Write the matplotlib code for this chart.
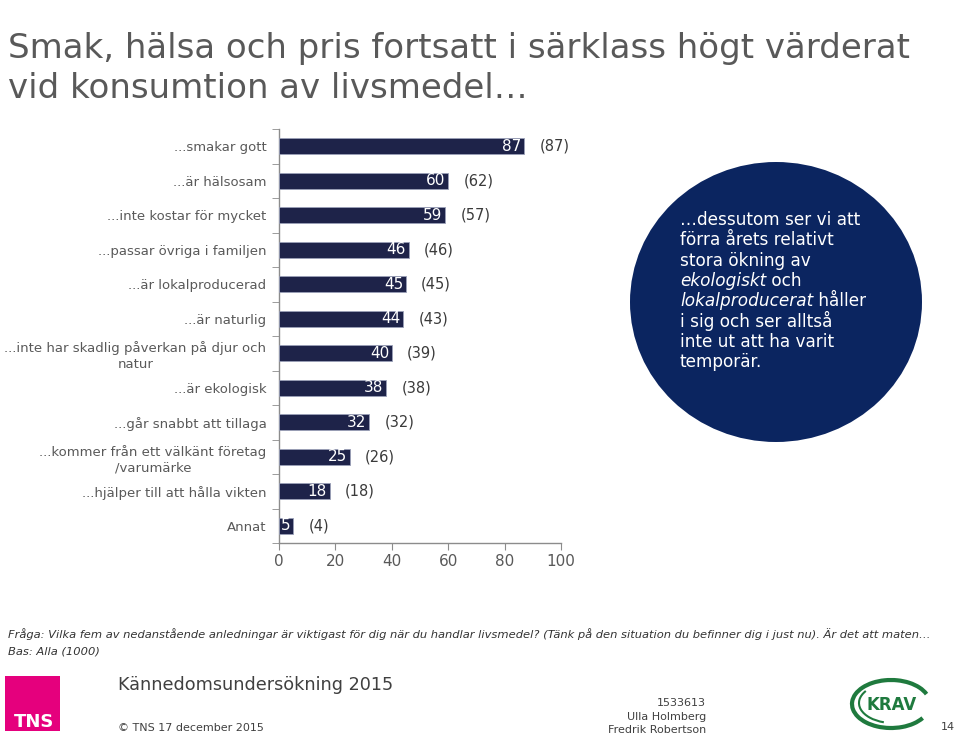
import matplotlib
matplotlib.use("Agg")
import matplotlib.pyplot as plt
from matplotlib.patches import Ellipse, Rectangle, Arc
import numpy as np

# ---------------- data ----------------
categories = [
    "...smakar gott",
    "...är hälsosam",
    "...inte kostar för mycket",
    "...passar övriga i familjen",
    "...är lokalproducerad",
    "...är naturlig",
    "...inte har skadlig påverkan på djur och\nnatur",
    "...är ekologisk",
    "...går snabbt att tillaga",
    "...kommer från ett välkänt företag\n/varumärke",
    "...hjälper till att hålla vikten",
    "Annat",
]
values_2015 = [87, 60, 59, 46, 45, 44, 40, 38, 32, 25, 18, 5]
values_2014 = [87, 62, 57, 46, 45, 43, 39, 38, 32, 26, 18, 4]
x_ticks = [0, 20, 40, 60, 80, 100]

title = "Smak, hälsa och pris fortsatt i särklass högt värderat\nvid konsumtion av livsmedel…"
question = ("Fråga: Vilka fem av nedanstående anledningar är viktigast för dig när du handlar livsmedel? "
            "(Tänk på den situation du befinner dig i just nu). Är det att maten…")
base = "Bas: Alla (1000)"

W, H = 960, 735
BAR = "#1e2349"
CIRCLE = "#0b2560"
GREY = "#595959"
AXIS = "#8c8c8c"

plt.rcParams["font.family"] = ["DejaVu Sans"]

fig = plt.figure(figsize=(W / 100, H / 100), dpi=100)
fig.patch.set_facecolor("white")


def P(x, y):
    return x / W, 1 - y / H


# ---------------- axes ----------------
ax_l, ax_r, ax_t, ax_b = 279, 561, 129, 543
ax = fig.add_axes([ax_l / W, 1 - ax_b / H, (ax_r - ax_l) / W, (ax_b - ax_t) / H])
n = len(categories)
ypos = np.arange(n)
ax.barh(ypos, values_2015, height=0.46, color=BAR, edgecolor="#9aa0b8", linewidth=0.6, zorder=3)
ax.set_xlim(0, 100)
ax.set_ylim(n - 0.5, -0.5)

for spine in ["top", "right"]:
    ax.spines[spine].set_visible(False)
for spine in ["left", "bottom"]:
    ax.spines[spine].set_color(AXIS)
    ax.spines[spine].set_linewidth(1.0)

ax.set_xticks(x_ticks)
ax.set_xticklabels([str(t) for t in x_ticks])
ax.tick_params(axis="x", direction="out", length=5, color=AXIS, labelsize=11, labelcolor=GREY, pad=3)

ax.set_yticks(ypos)
ax.set_yticklabels(categories)
ax.set_yticks(np.arange(-0.5, n, 1.0), minor=True)
ax.tick_params(axis="y", which="major", length=0, pad=9, labelsize=9.5, labelcolor=GREY)
ax.tick_params(axis="y", which="minor", direction="out", length=5, color=AXIS)
for lab in ax.get_yticklabels():
    lab.set_multialignment("center")
    lab.set_linespacing(1.3)

for i, (v, pv) in enumerate(zip(values_2015, values_2014)):
    ax.annotate(str(v), xy=(v, i), xytext=(-2, 0), textcoords="offset points",
                ha="right", va="center", color="white", fontsize=11, zorder=4)
    ax.annotate(f"({pv})", xy=(v, i), xytext=(11, 0), textcoords="offset points",
                ha="left", va="center", color="#3a3a3a", fontsize=10.5)

# ---------------- title ----------------
fig.text(*P(8, 58), title.split("\n")[0], fontsize=24.5, color=GREY, va="baseline", ha="left")
fig.text(*P(8, 98), title.split("\n")[1], fontsize=24.5, color=GREY, va="baseline", ha="left")

# ---------------- circle ----------------
circ = Ellipse(P(776, 302), 292 / W, 280 / H, transform=fig.transFigure, facecolor=CIRCLE,
               edgecolor="none", zorder=1)
fig.add_artist(circ)

circle_lines = [
    [("…dessutom ser vi att", "normal")],
    [("förra årets relativt", "normal")],
    [("stora ökning av", "normal")],
    [("ekologiskt", "italic"), (" och", "normal")],
    [("lokalproducerat", "italic"), (" håller", "normal")],
    [("i sig och ser alltså", "normal")],
    [("inte ut att ha varit", "normal")],
    [("temporär.", "normal")],
]
renderer = fig.canvas.get_renderer()
for k, segs in enumerate(circle_lines):
    yb = 225 + 20.3 * k
    xcur = 680
    for txt, style in segs:
        t = fig.text(*P(xcur, yb), txt, fontsize=12.2, color="white", style=style,
                     va="baseline", ha="left", zorder=2)
        bb = t.get_window_extent(renderer=renderer)
        xcur = bb.x1 * W / fig.bbox.width

# ---------------- footer ----------------
fig.text(*P(8, 638), question, fontsize=8.25, style="italic", color="#333333", va="baseline")
fig.text(*P(8, 654), base, fontsize=8.25, style="italic", color="#333333", va="baseline")

fig.text(*P(118, 690), "Kännedomsundersökning 2015", fontsize=12.7, color="#404040", va="baseline")
fig.text(*P(118, 731), "© TNS 17 december 2015", fontsize=8, color="#404040", va="baseline")
fig.text(*P(706, 706), "1533613", fontsize=8, color="#404040", va="baseline", ha="right")
fig.text(*P(706, 720), "Ulla Holmberg", fontsize=8, color="#404040", va="baseline", ha="right")
fig.text(*P(706, 733), "Fredrik Robertson", fontsize=8, color="#404040", va="baseline", ha="right")
fig.text(*P(955, 730), "14", fontsize=8, color="#404040", va="baseline", ha="right")

# TNS logo
x0, y0 = P(5, 731)
fig.add_artist(Rectangle((x0, y0), 55 / W, 55 / H, transform=fig.transFigure,
                         facecolor="#e5007d", edgecolor="none"))
fig.text(*P(34, 727), "TNS", fontsize=13, fontweight="bold", color="white",
         ha="center", va="baseline")

# KRAV logo
KGREEN = "#1f7a3e"
fig.add_artist(Arc(P(891, 704), 78 / W, 48 / H, theta1=20, theta2=330, transform=fig.transFigure,
                   edgecolor=KGREEN, linewidth=3))
fig.add_artist(Arc(P(893, 703), 68 / W, 40 / H, theta1=150, theta2=250, transform=fig.transFigure,
                   edgecolor=KGREEN, linewidth=1.5))
fig.text(*P(892, 705), "KRAV", fontsize=12, fontweight="bold", color=KGREEN,
         ha="center", va="center")

fig.savefig("out.png", dpi=100, facecolor="white")
